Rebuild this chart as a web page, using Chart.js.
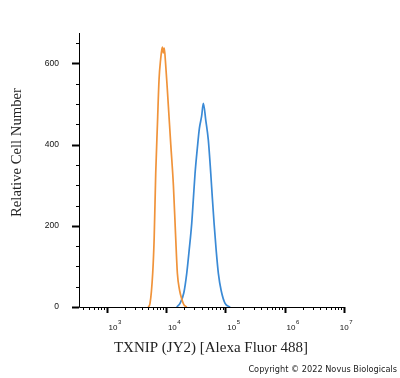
<!DOCTYPE html>
<html>
<head>
<meta charset="utf-8">
<title>TXNIP (JY2) flow histogram</title>
<script src="https://cdn.jsdelivr.net/npm/chart.js"></script>
<style>
  body { margin: 0; background: #fff; }
  .wrap { position: relative; width: 400px; height: 378px; }
  .credit { position: absolute; right: 3px; top: 364px; font: 8.2px "DejaVu Sans", sans-serif; line-height: 10px; color: #222; white-space: nowrap; }
</style>
</head>
<body>
<div class="wrap">
  <canvas id="histo" width="400" height="378"></canvas>
  <div class="credit">Copyright © 2022 Novus Biologicals</div>
</div>

<script>
// orange = control, blue = TXNIP stained
const orangeX = [5012, 5370, 5957, 6310, 6699, 7161, 7621, 8128, 8511, 8710, 9016, 9333, 9772, 10471, 11220, 12023, 13305, 14454, 15524, 16982, 18408, 19953, 22387];
const orangeY = [0, 9, 83, 170, 329, 450, 560, 612, 635, 640, 626, 638, 605, 540, 470, 400, 300, 180, 83, 40, 20, 6, 0];

const blueX = [15136, 17378, 19953, 22336, 24547, 27102, 28840, 30832, 33884, 36475, 39811, 42560, 46774, 51642, 56754, 60256, 64565, 69984, 76208, 85114, 98855, 120226];
const blueY = [0, 10, 35, 83, 140, 206, 265, 329, 395, 440, 470, 502, 460, 411, 329, 270, 206, 140, 83, 40, 9, 0];

const yLabelTicks = [0, 200, 400, 600];
const xDecades = [3, 4, 5, 6, 7];

function toPoints(xs, ys) {
    return xs.map((x, i) => ({ x: x, y: ys[i] }));
}

// axes drawn FlowJo style: long major ticks, short minor ticks
const flowAxes = {
    id: 'flowAxes',
    afterDraw(chart) {
        const { ctx, chartArea: a, scales: { x, y } } = chart;
        ctx.save();
        ctx.strokeStyle = '#000';
        ctx.lineWidth = 1;
        ctx.beginPath();
        ctx.moveTo(a.left + 0.5, a.top);
        ctx.lineTo(a.left + 0.5, a.bottom + 0.5);
        ctx.lineTo(a.right + 1, a.bottom + 0.5);
        ctx.stroke();

        // y ticks every 50, labelled ones longer
        for (let v = 0; v <= y.max; v += 50) {
            const py = Math.round(y.getPixelForValue(v)) + 0.5;
            const major = yLabelTicks.includes(v);
            ctx.lineWidth = major ? 2 : 1;
            ctx.beginPath();
            ctx.moveTo(a.left, py);
            ctx.lineTo(a.left - (major ? 7 : 3), py);
            ctx.stroke();
        }

        // x ticks at 1..9 x 10^n
        for (let d = 2; d <= 7; d++) {
            for (let m = 1; m <= 9; m++) {
                const v = m * Math.pow(10, d);
                if (v < x.min || v > x.max) continue;
                const px = Math.round(x.getPixelForValue(v)) + 0.5;
                ctx.lineWidth = m === 1 ? 2 : 1;
                ctx.beginPath();
                ctx.moveTo(px, a.bottom);
                ctx.lineTo(px, a.bottom + (m === 1 ? 6 : 3));
                ctx.stroke();
            }
        }

        // decade labels 10^n
        ctx.fillStyle = '#111';
        ctx.textBaseline = 'alphabetic';
        ctx.textAlign = 'left';
        xDecades.forEach(e => {
            ctx.font = '8px "Liberation Sans"';
            const w1 = ctx.measureText('10').width;
            ctx.font = '6px "Liberation Sans"';
            const w2 = ctx.measureText(String(e)).width;
            let left = x.getPixelForValue(Math.pow(10, e)) + 8 - (w1 + w2) / 2;
            if (left + w1 + w2 > 352) left = 352 - w1 - w2;
            ctx.font = '8px "Liberation Sans"';
            ctx.fillText('10', left, 330);
            ctx.font = '6px "Liberation Sans"';
            ctx.fillText(String(e), left + w1 + 0.5, 324);
        });

        // axis titles
        ctx.fillStyle = '#222';
        ctx.textAlign = 'center';
        ctx.textBaseline = 'middle';
        ctx.font = '15px "Liberation Serif"';
        ctx.fillText('TXNIP (JY2) [Alexa Fluor 488]', 211, 348);
        ctx.translate(17.5, 152.5);
        ctx.rotate(-Math.PI / 2);
        ctx.font = '14.7px "Liberation Serif"';
        ctx.fillText('Relative Cell Number', 0, 0);
        ctx.restore();
    }
};

const chart = new Chart(document.getElementById('histo').getContext('2d'), {
    type: 'scatter',
    data: {
        datasets: [
            {
                label: 'Control',
                data: toPoints(orangeX, orangeY),
                showLine: true,
                borderColor: '#f0933a',
                borderWidth: 1.7,
                pointRadius: 0,
                cubicInterpolationMode: 'monotone'
            },
            {
                label: 'TXNIP (JY2)',
                data: toPoints(blueX, blueY),
                showLine: true,
                borderColor: '#3a8ad6',
                borderWidth: 1.7,
                pointRadius: 0,
                cubicInterpolationMode: 'monotone'
            }
        ]
    },
    options: {
        responsive: false,
        animation: false,
        layout: { padding: { left: 0, top: 33, right: 56, bottom: 0 } },
        plugins: { legend: { display: false }, tooltip: { enabled: false } },
        scales: {
            x: {
                type: 'logarithmic',
                min: 341,
                max: 1e7,
                grid: { display: false, drawTicks: false },
                border: { display: false },
                ticks: { display: false },
                afterFit: s => { s.height = 71; }
            },
            y: {
                min: 0,
                max: 675,
                grid: { display: false, drawTicks: false },
                border: { display: false },
                ticks: { padding: 20, color: '#111', font: { family: 'Liberation Sans', size: 8.5 } },
                afterBuildTicks: s => { s.ticks = yLabelTicks.map(v => ({ value: v })); },
                afterFit: s => { s.width = 79; }
            }
        }
    },
    plugins: [flowAxes]
});
</script>
</body>
</html>
